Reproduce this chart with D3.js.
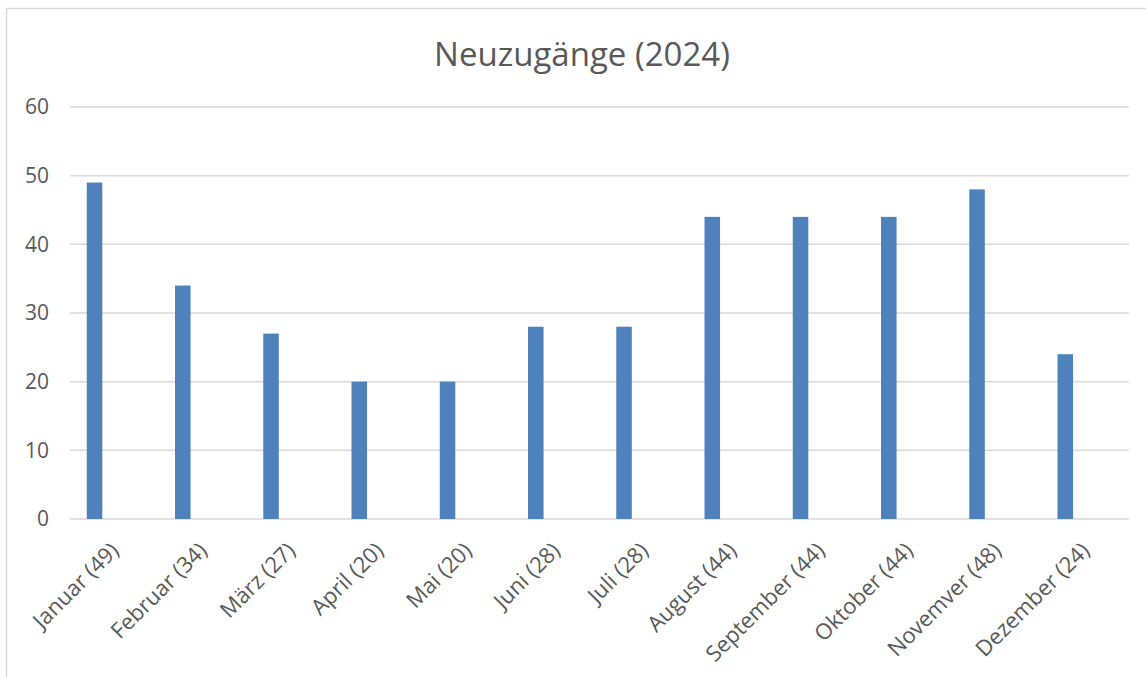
<!DOCTYPE html>
<html>
<head>
    <meta charset="utf-8">
    <title>Neuzugänge (2024)</title>
    <script src="https://cdnjs.cloudflare.com/ajax/libs/d3/7.8.5/d3.min.js"></script>
    <style>
        body { margin: 0; background: #fff; font-family: "Open Sans", sans-serif; }
        svg { display: block; }
    </style>
</head>
<body>
    <div id="chart"></div>

    <script>
        const months = ["Januar", "Februar", "März", "April", "Mai", "Juni", "Juli", "August", "September", "Oktober", "Novemver", "Dezember"]
        const values = [49, 34, 27, 20, 20, 28, 28, 44, 44, 44, 48, 24]
        const yTicks = [0, 10, 20, 30, 40, 50, 60]
        const title = "Neuzugänge (2024)"

        const W = 1146, H = 677
        const MARGIN = { top: 107, right: 17, bottom: 158, left: 70 }
        const chartW = W - MARGIN.left - MARGIN.right
        const chartH = H - MARGIN.top - MARGIN.bottom
        const textColor = "#595959"
        const gridColor = "#d9d9d9"

        let labels = months.map((m, i) => `${m} (${values[i]})`)

        let svg = d3.select("#chart").append("svg")
            .attr("width", W)
            .attr("height", H)

        // chart area frame (runs off the right/bottom edge like the screenshot)
        svg.append("rect").attr("x", 6.5).attr("y", 8.5)
            .attr("width", W + 20).attr("height", H + 20)
            .attr("fill", "none").attr("stroke", gridColor).attr("stroke-width", 1.5)

        svg.append("text").attr("x", 582).attr("y", 66)
            .attr("text-anchor", "middle")
            .attr("fill", textColor)
            .style("font-size", "33px")
            .text(title)

        let g = svg.append("g").attr("transform", `translate(${MARGIN.left},${MARGIN.top})`)

        let x = d3.scaleBand().domain(labels).range([0, chartW]).padding(0)
        let y = d3.scaleLinear().domain([0, 60]).range([chartH, 0])

        // gridlines
        g.selectAll(".grid").data(yTicks).join("line")
            .attr("x1", 0).attr("x2", chartW)
            .attr("y1", d => y(d)).attr("y2", d => y(d))
            .attr("stroke", gridColor).attr("stroke-width", 1.5)

        // y labels
        g.selectAll(".ylab").data(yTicks).join("text")
            .attr("x", -21).attr("y", d => y(d))
            .attr("dy", "0.35em")
            .attr("text-anchor", "end")
            .attr("fill", textColor)
            .style("font-size", "21px")
            .text(d => d)

        // bars sit in the left part of each category (clustered layout)
        let barOffset = 0.19, barWidth = 0.176
        g.selectAll(".bar").data(values).join("rect")
            .attr("x", (d, i) => x(labels[i]) + x.bandwidth() * barOffset)
            .attr("width", x.bandwidth() * barWidth)
            .attr("y", d => y(d))
            .attr("height", d => y(0) - y(d))
            .attr("fill", "#4f81bd")

        // x labels, rotated -45
        g.selectAll(".xlab").data(labels).join("text")
            .attr("transform", d => `translate(${x(d) + x.bandwidth() / 2 - 5},${chartH + 22}) rotate(-45)`)
            .attr("dy", "0.7em")
            .attr("text-anchor", "end")
            .attr("fill", textColor)
            .style("font-size", "22px")
            .text(d => d)
    </script>
</body>
</html>
